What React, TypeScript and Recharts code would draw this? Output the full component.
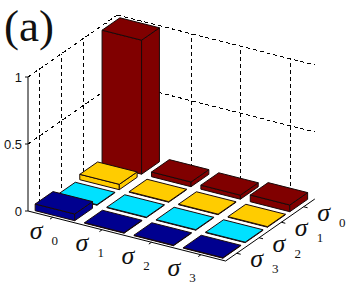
import React from 'react';
import { ComposedChart, Scatter, XAxis, YAxis, ReferenceLine } from 'recharts';

const LABELS = ['0', '1', '2', '3'];
// rows run back to front, columns left to right
const ROW_COLORS = ['#800000', '#ffcc00', '#00e1ff', '#00008f'];
const ROW_0 = [1, 0.035, 0.03, 0.05];
const ROW_1 = [0.04, 0.004, 0.004, 0.004];
const ROW_2 = [0.004, 0.004, 0.004, 0.004];
const ROW_3 = [0.05, 0.004, 0.004, 0.004];
const ROWS = [ROW_0, ROW_1, ROW_2, ROW_3];
const Z_TICKS = [0, 0.5, 1];
const WALL_LEVELS = [0.5, 1];
const TICK_CENTERS = [0.5, 1.5, 2.5, 3.5];

const WIDTH = 350;
const HEIGHT = 284;
const AXIS_LEFT = 28;
const FLOOR_Y = 211;
const PX_PER_Z = 134;
const BAR_SIZE = 0.8;
const BAR_GAP = 0.1;
const SERIF = 'Liberation Serif, Times New Roman, serif';

// oblique projection: u along the front edge, v towards the back, z upwards
const STEP_U = { x: 49.4, y: 12.5 };
const STEP_V = { x: 22.3, y: -15.5 };

const project = (u: number, v: number, z = 0) => ({
  x: AXIS_LEFT + STEP_U.x * u + STEP_V.x * v,
  y: z - (STEP_U.y * u + STEP_V.y * v) / PX_PER_Z,
});

const bars = ROWS.flatMap((values, r) =>
  values.map((value, c) => {
    const base = project(c + BAR_GAP, 3 - r + BAR_GAP);
    return { ...base, value, color: ROW_COLORS[r] };
  })
);

const colLabels = LABELS.map((text, i) => {
  const p = project(TICK_CENTERS[i], 0);
  return { x: p.x - 15 - 3.5 * i, y: p.y - 15.5 / PX_PER_Z, text };
});

const rowLabels = LABELS.map((text, i) => {
  const p = project(4, 3.5 - i);
  return { x: p.x + 21.5, y: p.y - 8 / PX_PER_Z, text };
});

const pts = (list: number[][]) => list.map(p => p.join(',')).join(' ');

const BarShape = (props: any) => {
  const { cx, cy, payload } = props;
  const h = payload.value * PX_PER_Z;
  const ux = STEP_U.x * BAR_SIZE;
  const uy = STEP_U.y * BAR_SIZE;
  const vx = STEP_V.x * BAR_SIZE;
  const vy = STEP_V.y * BAR_SIZE;
  const a = [cx, cy];
  const b = [cx + ux, cy + uy];
  const c = [cx + ux + vx, cy + uy + vy];
  const d = [cx + vx, cy + vy];
  const up = (p: number[]) => [p[0], p[1] - h];
  const style = { fill: payload.color, stroke: '#1a0a0a', strokeWidth: 1, strokeLinejoin: 'round' as const };
  return (
    <g>
      <polygon points={pts([a, b, up(b), up(a)])} {...style} />
      <polygon points={pts([b, c, up(c), up(b)])} {...style} />
      <polygon points={pts([up(a), up(b), up(c), up(d)])} {...style} />
    </g>
  );
};

const LabelShape = (props: any) => {
  const { cx, cy, payload } = props;
  return (
    <text x={cx - 8} y={cy + 6} style={{ fontFamily: SERIF, fontSize: 26, fontStyle: 'italic' }} fill="#111">
      σ
      <tspan dx={9} dy={6} style={{ fontSize: 13, fontStyle: 'normal' }}>{payload.text}</tspan>
    </text>
  );
};

const seg = (p: { x: number; y: number }, q: { x: number; y: number }) => [p, q];

const App = () => {
  const corner = project(0, 4);
  const right = project(4, 4);
  const dashed = { stroke: '#000', strokeDasharray: '4 3', shapeRendering: 'crispEdges' };
  return (
    <div style={{ position: 'absolute', left: 0, top: 0 }}>
      <ComposedChart width={WIDTH} height={HEIGHT} margin={{ top: 0, right: 0, bottom: 0, left: 0 }}>
        <XAxis type="number" dataKey="x" domain={[AXIS_LEFT, WIDTH]} hide />
        <YAxis
          type="number"
          dataKey="y"
          width={AXIS_LEFT}
          domain={[(FLOOR_Y - HEIGHT) / PX_PER_Z, FLOOR_Y / PX_PER_Z]}
          ticks={Z_TICKS}
          axisLine={false}
          tickSize={3}
          tickMargin={3}
          tick={{ fontFamily: 'Liberation Sans', fontSize: 13, fill: '#111' }}
          tickLine={{ stroke: '#111' }}
          stroke="#111"
        />

        {/* back walls */}
        {WALL_LEVELS.map(z => (
          <ReferenceLine key={`l${z}`} segment={seg(project(0, 0, z), project(0, 4, z))} {...dashed} />
        ))}
        {WALL_LEVELS.map(z => (
          <ReferenceLine key={`r${z}`} segment={seg(project(0, 4, z), project(4, 4, z))} {...dashed} />
        ))}
        {TICK_CENTERS.map(v => (
          <ReferenceLine key={`vl${v}`} segment={seg(project(0, v), project(0, v, 1))} {...dashed} />
        ))}
        {TICK_CENTERS.map(u => (
          <ReferenceLine key={`vr${u}`} segment={seg(project(u, 4), project(u, 4, 1))} {...dashed} />
        ))}
        <ReferenceLine segment={seg(corner, { x: corner.x, y: corner.y + 1 })} {...dashed} />

        {/* solid axes */}
        <ReferenceLine segment={seg(project(0, 0), project(0, 0, 1))} stroke="#000" />
        <ReferenceLine segment={seg(project(0, 0), project(4, 0))} stroke="#000" />
        <ReferenceLine segment={seg(project(4, 0), { x: right.x, y: right.y })} stroke="#000" />
        {TICK_CENTERS.map(u => (
          <ReferenceLine key={`tu${u}`} segment={seg(project(u, 0), project(u, -0.12))} stroke="#000" />
        ))}
        {TICK_CENTERS.map(v => (
          <ReferenceLine key={`tv${v}`} segment={seg(project(4, v), project(4.08, v))} stroke="#000" />
        ))}

        <Scatter data={bars} shape={BarShape} isAnimationActive={false} />
        <Scatter data={colLabels} shape={LabelShape} isAnimationActive={false} />
        <Scatter data={rowLabels} shape={LabelShape} isAnimationActive={false} />

        <text x={4} y={41} style={{ fontFamily: SERIF, fontSize: 45 }} fill="#111">(a)</text>
      </ComposedChart>
    </div>
  );
};

export default App;
